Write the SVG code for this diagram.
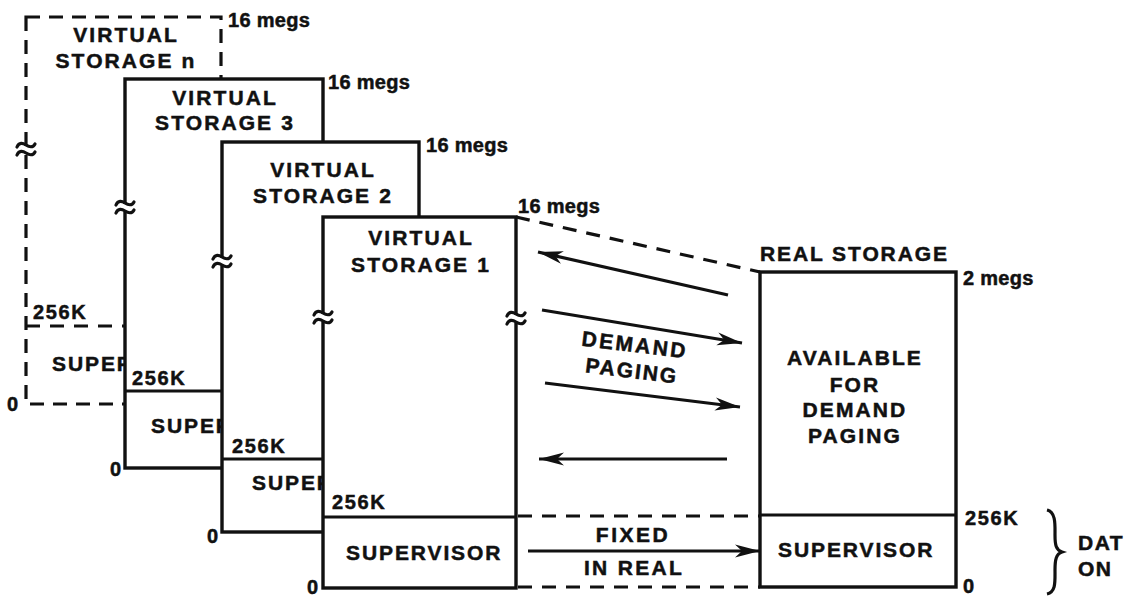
<svg xmlns="http://www.w3.org/2000/svg" xmlns:xlink="http://www.w3.org/1999/xlink" width="1139" height="596" viewBox="0 0 1139 596">
<style>
.box{fill:#fff;stroke:#111;stroke-width:3.4}
.dbox{fill:#fff;stroke:#111;stroke-width:3.2;stroke-dasharray:14 9}
.ln{stroke:#111;stroke-width:3.2;fill:none}
.dash{stroke:#111;stroke-width:3.2;fill:none;stroke-dasharray:14 10}
.arr{stroke:#111;stroke-width:3.2;fill:none;marker-end:url(#ah)}
.t{font-family:"Liberation Sans",Arial,sans-serif;font-weight:bold;fill:#111;stroke:#111;stroke-width:0.5}
.ttl{font-size:21px;letter-spacing:2.1px;text-anchor:middle}
.sup{font-size:21px;letter-spacing:1.9px}
.lbl{font-size:20px;letter-spacing:1.6px}
.meg{font-size:20px;letter-spacing:0.3px}
</style>
<defs>
<marker id="ah" markerUnits="userSpaceOnUse" markerWidth="28" markerHeight="16" refX="25" refY="8" orient="auto">
<path d="M0,1.5 L25,8 L0,14.5 L7,8 Z" fill="#111"/>
</marker>
<g id="brk">
<rect x="-3" y="-4" width="6" height="8" fill="#fff"/>
<path d="M-9,-3 C-7,-8 -3,-7 0,-5 C3,-3 7,-2 9,-6" class="ln" stroke-linecap="round"/>
<path d="M-9,5 C-7,0 -3,1 0,3 C3,5 7,6 9,2" class="ln" stroke-linecap="round"/>
</g>
</defs>
<rect width="1139" height="596" fill="#fff"/>

<g id="vs-n">
<rect class="dbox" x="26" y="17" width="195" height="387"/>
<line class="dash" x1="26" y1="326" x2="221" y2="326"/>
<use xlink:href="#brk" x="26" y="150"/>
<text class="t ttl" x="126" y="42">VIRTUAL</text>
<text class="t ttl" x="126" y="68">STORAGE n</text>
<text class="t meg" x="228" y="27">16 megs</text>
<text class="t lbl" x="33" y="319">256K</text>
<text class="t sup" x="52" y="371">SUPER</text>
<text class="t lbl" x="7" y="411">0</text>
</g>

<g id="vs-3">
<rect class="box" x="125" y="79" width="198" height="389"/>
<line class="ln" x1="125" y1="391" x2="323" y2="391"/>
<use xlink:href="#brk" x="125" y="208"/>
<text class="t ttl" x="225" y="105">VIRTUAL</text>
<text class="t ttl" x="225" y="130">STORAGE 3</text>
<text class="t meg" x="328" y="89">16 megs</text>
<text class="t lbl" x="132" y="385">256K</text>
<text class="t sup" x="151" y="433">SUPER</text>
<text class="t lbl" x="110" y="476">0</text>
</g>

<g id="vs-2">
<rect class="box" x="222" y="142" width="197" height="390"/>
<line class="ln" x1="222" y1="459" x2="419" y2="459"/>
<use xlink:href="#brk" x="222" y="262"/>
<text class="t ttl" x="323" y="177">VIRTUAL</text>
<text class="t ttl" x="323" y="203">STORAGE 2</text>
<text class="t meg" x="426" y="152">16 megs</text>
<text class="t lbl" x="232" y="453">256K</text>
<text class="t sup" x="252" y="490">SUPER</text>
<text class="t lbl" x="207" y="543">0</text>
</g>

<g id="vs-1">
<rect class="box" x="323" y="217" width="193" height="371"/>
<line class="ln" x1="323" y1="517" x2="516" y2="517"/>
<use xlink:href="#brk" x="323" y="318"/>
<use xlink:href="#brk" x="516" y="319"/>
<text class="t ttl" x="421" y="245">VIRTUAL</text>
<text class="t ttl" x="421" y="272">STORAGE 1</text>
<text class="t meg" x="518" y="213">16 megs</text>
<text class="t lbl" x="332" y="509">256K</text>
<text class="t sup" x="346" y="560">SUPERVISOR</text>
<text class="t lbl" x="307" y="594">0</text>
</g>

<g id="real">
<text class="t" x="760" y="261" font-size="21" letter-spacing="1.9">REAL STORAGE</text>
<rect class="box" x="760" y="272" width="196" height="315"/>
<line class="ln" x1="760" y1="515" x2="956" y2="515"/>
<text class="t ttl" x="855" y="365" letter-spacing="2.6">AVAILABLE</text>
<text class="t ttl" x="855" y="392">FOR</text>
<text class="t ttl" x="855" y="417">DEMAND</text>
<text class="t ttl" x="855" y="443">PAGING</text>
<text class="t sup" x="778" y="557">SUPERVISOR</text>
<text class="t meg" x="963" y="285">2 megs</text>
<text class="t lbl" x="965" y="525">256K</text>
<text class="t lbl" x="963" y="593">0</text>
</g>

<g id="dat">
<path class="ln" stroke-width="2" d="M1047,510 C1056,512 1055,525 1055,535 C1055,545 1056,550 1062,552 C1056,554 1055,560 1055,570 C1055,582 1056,592 1047,594"/>
<text class="t" x="1078" y="550" font-size="21" letter-spacing="1.5">DAT</text>
<text class="t" x="1078" y="576" font-size="21" letter-spacing="1.5">ON</text>
</g>

<g id="connectors">
<line class="dash" x1="516" y1="217" x2="760" y2="272"/>
<line class="dash" x1="518" y1="516" x2="760" y2="516"/>
<line class="dash" x1="518" y1="587" x2="760" y2="587"/>
<line class="arr" x1="728" y1="295" x2="538" y2="252"/>
<line class="arr" x1="542" y1="310" x2="742" y2="343"/>
<line class="arr" x1="545" y1="383" x2="740" y2="407"/>
<line class="arr" x1="727" y1="459" x2="539" y2="459"/>
<line class="arr" x1="528" y1="551" x2="760" y2="551"/>
<text class="t" transform="translate(634,352) rotate(7)" text-anchor="middle" font-size="21" letter-spacing="2.4">DEMAND</text>
<text class="t" transform="translate(631,378) rotate(7)" text-anchor="middle" font-size="21" letter-spacing="2">PAGING</text>
<text class="t" x="633" y="542" text-anchor="middle" font-size="21" letter-spacing="2.5">FIXED</text>
<text class="t" x="634" y="575" text-anchor="middle" font-size="21" letter-spacing="2.3">IN REAL</text>
</g>
</svg>
